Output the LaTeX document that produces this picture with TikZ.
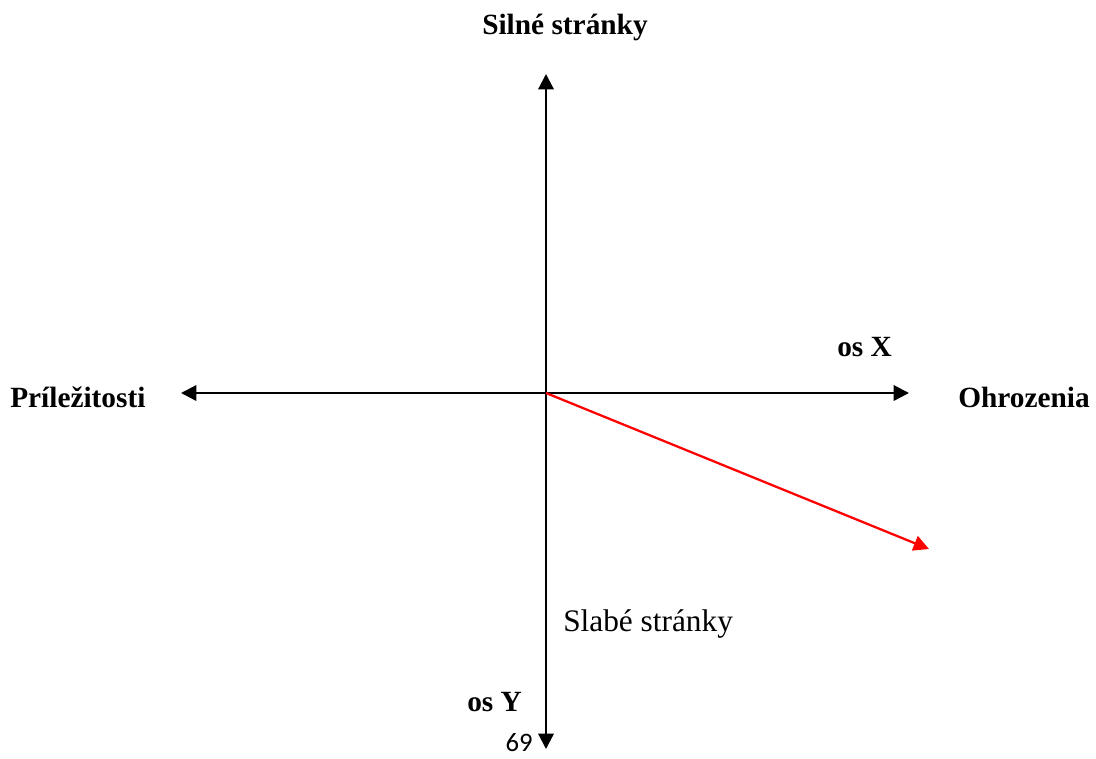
\documentclass[tikz,border=0pt]{standalone}
\usepackage{fontspec}
\setmainfont{Liberation Serif}
\newfontfamily\numfont{Carlito}
\usepackage{tikz}
\usetikzlibrary{arrows.meta, positioning}

\begin{document}
\begin{tikzpicture}[
    x=0.75pt, y=-0.75pt,
    axis/.style={{Triangle[length=11.5pt, width=11.5pt]}-{Triangle[length=11.5pt, width=11.5pt]}, line width=1.7pt, black},
    vector/.style={-{Triangle[length=11.5pt, width=11.5pt]}, line width=1.7pt, red},
    title/.style={font=\fontsize{22}{26}\selectfont\bfseries, inner sep=0pt},
    plain/.style={font=\fontsize{23.5}{27}\selectfont, inner sep=0pt}
]
\useasboundingbox (0,0) rectangle (1096,758);

% Axes
\coordinate (origin) at (546,393);
\coordinate (ytop) at (546,74);
\coordinate (ybot) at (546,749);
\coordinate (xleft) at (181,393);
\coordinate (xright) at (909,393);
\coordinate (vend) at (929,549);

\draw[axis] (ytop) -- (ybot);
\draw[axis] (xleft) -- (xright);
\draw[vector] (origin) -- (vend);

% Labels
\node[title] (strong) at (565,27) {Silné stránky};
\node[title, anchor=west] (opport) at (10,397) {Príležitosti};
\node[title, anchor=west] (threat) at (958,397) {Ohrozenia};
\node[title, anchor=west] (osx) at (837,347) {os X};
\node[plain, anchor=west] (weak) at (563,624) {Slabé stránky};
\node[title, anchor=west] (osy) at (467,702) {os Y};
\node[font=\numfont\fontsize{20}{24}\selectfont, inner sep=0pt, anchor=east] (page) at (533,743) {69};

\end{tikzpicture}
\end{document}
